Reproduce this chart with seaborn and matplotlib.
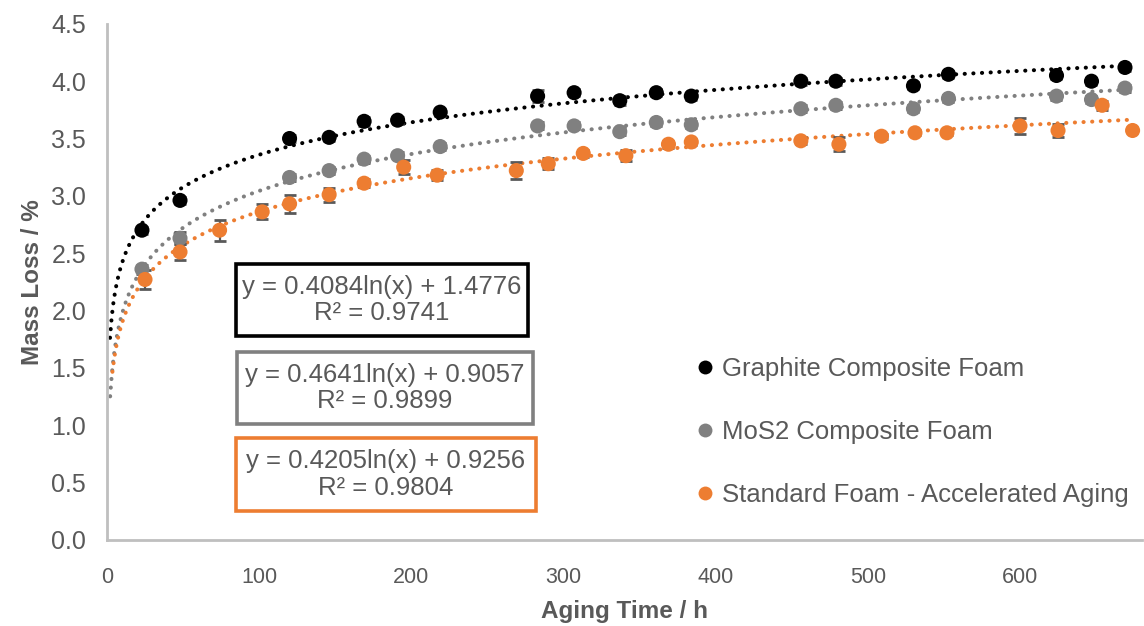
import numpy as np
import pandas as pd
import matplotlib
matplotlib.use("Agg")
import matplotlib.pyplot as plt
import seaborn as sns
from matplotlib.lines import Line2D
from matplotlib.patches import Rectangle

# ---------------- data ----------------
series_names = ["Graphite Composite Foam", "MoS2 Composite Foam",
                "Standard Foam - Accelerated Aging"]
series_colors = ["#000000", "#808080", "#ED7D31"]

composite_time = [23, 48, 120, 146, 169, 191, 219, 283, 307, 337, 361, 384,
                  456, 479, 530, 553, 624, 647, 669]
graphite_loss = [2.70, 2.96, 3.50, 3.51, 3.65, 3.66, 3.73, 3.87, 3.90, 3.83,
                 3.90, 3.87, 4.00, 4.00, 3.96, 4.06, 4.05, 4.00, 4.12]
graphite_err = [0.03, 0.03, 0.03, 0.03, 0.04, 0.03, 0.03, 0.05, 0.03, 0.04,
                0.03, 0.03, 0.03, 0.03, 0.03, 0.03, 0.03, 0.03, 0.03]
mos2_loss = [2.36, 2.63, 3.16, 3.22, 3.32, 3.35, 3.43, 3.61, 3.61, 3.56,
             3.64, 3.62, 3.76, 3.79, 3.76, 3.85, 3.87, 3.84, 3.94]
mos2_err = [0.04, 0.05, 0.03, 0.03, 0.03, 0.03, 0.03, 0.03, 0.03, 0.03,
            0.03, 0.03, 0.03, 0.03, 0.03, 0.03, 0.03, 0.03, 0.03]

standard_time = [25, 48, 74, 102, 120, 146, 169, 195, 217, 269, 290, 313,
                 341, 369, 384, 456, 481, 509, 531, 552, 600, 625, 654, 674]
standard_loss = [2.27, 2.51, 2.70, 2.86, 2.93, 3.01, 3.11, 3.25, 3.18, 3.22,
                 3.28, 3.37, 3.35, 3.45, 3.47, 3.48, 3.45, 3.52, 3.55, 3.55,
                 3.61, 3.57, 3.79, 3.57]
standard_err = [0.08, 0.066, 0.09, 0.065, 0.077, 0.06, 0.035, 0.06, 0.045,
                0.075, 0.05, 0.03, 0.05, 0.03, 0.03, 0.03, 0.06, 0.02, 0.02,
                0.02, 0.073, 0.06, 0.04, 0.0]

# logarithmic trend lines as printed on the chart
fit_slope = [0.4084, 0.4641, 0.4205]
fit_intercept = [1.4776, 0.9057, 0.9256]
fit_r2 = [0.9741, 0.9899, 0.9804]
fit_start = [2.0, 2.1, 3.6]
fit_end = [672, 672, 672]

x_ticks = [0, 100, 200, 300, 400, 500, 600]
y_ticks = [0.0, 0.5, 1.0, 1.5, 2.0, 2.5, 3.0, 3.5, 4.0, 4.5]
x_label = "Aging Time / h"
y_label = "Mass Loss / %"

# ---------------- build tidy frames ----------------
frames = []
for name, t, v, e in [(series_names[0], composite_time, graphite_loss, graphite_err),
                      (series_names[1], composite_time, mos2_loss, mos2_err),
                      (series_names[2], standard_time, standard_loss, standard_err)]:
    frames.append(pd.DataFrame({"time": t, "loss": v, "err": e, "series": name}))
df = pd.concat(frames, ignore_index=True)

fit_frames = []
for name, a, b, x0, x1 in zip(series_names, fit_slope, fit_intercept, fit_start, fit_end):
    xs = np.linspace(x0, x1, 600)
    fit_frames.append(pd.DataFrame({"time": xs, "loss": a * np.log(xs) + b, "series": name}))
fit_df = pd.concat(fit_frames, ignore_index=True)

# ---------------- style ----------------
sns.set_theme(style="white")
plt.rcParams["font.family"] = ["Liberation Sans", "DejaVu Sans"]
TXT = "#595959"
AX = "#BFBFBF"

fig = plt.figure(figsize=(11.44, 6.26), dpi=100)
ax = fig.add_axes([0.0935, 0.138, 0.9045, 0.8238])

palette = dict(zip(series_names, series_colors))

# trend lines (dotted)
for name in series_names:
    sub = fit_df[fit_df.series == name]
    sns.lineplot(data=sub, x="time", y="loss", ax=ax, color=palette[name],
                 linewidth=2.9, linestyle=(0, (0.05, 2.1)),
                 dash_capstyle="round", zorder=2, legend=False, sort=False)

# error bars
for name in series_names:
    sub = df[df.series == name]
    ax.errorbar(sub["time"], sub["loss"], yerr=sub["err"], fmt="none",
                ecolor="#595959", elinewidth=1.6, capsize=4.5, capthick=2.0,
                zorder=3)

# points
sns.scatterplot(data=df, x="time", y="loss", hue="series", palette=palette,
                hue_order=series_names, s=118, edgecolor="none",
                ax=ax, legend=False, zorder=4)

# axes
ax.set_xlim(0, 680)
ax.set_ylim(0, 4.5)
ax.set_xticks(x_ticks)
ax.set_yticks(y_ticks)
ax.set_yticklabels([f"{v:.1f}" for v in y_ticks])
for side in ["top", "right"]:
    ax.spines[side].set_visible(False)
for side in ["left", "bottom"]:
    ax.spines[side].set_color(AX)
    ax.spines[side].set_linewidth(2.0)
ax.tick_params(axis="both", which="major", direction="out", length=5,
               width=1.6, color=AX, labelcolor=TXT)
ax.tick_params(axis="y", labelsize=18, pad=10)
ax.tick_params(axis="x", labelsize=15.5, pad=15)
ax.grid(False)

ax.set_xlabel(x_label, fontsize=17.5, fontweight="bold", color=TXT, labelpad=8)
ax.set_ylabel(y_label, fontsize=17.5, fontweight="bold", color=TXT, labelpad=5)

# equation boxes (pixel geometry converted to figure fractions)
W, H = 1144, 626
boxes = [(236, 264, 528, 336), (237, 352, 533, 424), (236, 438, 536, 511)]
for (x0, y0, x1, y1), col, a, b, r2 in zip(boxes, series_colors, fit_slope,
                                          fit_intercept, fit_r2):
    rect = Rectangle((x0 / W, 1 - y1 / H), (x1 - x0) / W, (y1 - y0) / H,
                     transform=fig.transFigure, facecolor="white",
                     edgecolor=col, linewidth=2.6, zorder=5)
    fig.patches.append(rect)
    cx = (x0 + x1) / 2 / W
    cy = 1 - (y0 + y1) / 2 / H
    fig.text(cx, cy, f"y = {a:.4f}ln(x) + {b:.4f}\nR² = {r2:.4f}",
             ha="center", va="center", fontsize=18.5, color=TXT,
             linespacing=1.12, zorder=6)

# legend
handles = [Line2D([0], [0], marker="o", linestyle="none", markersize=10,
                  markerfacecolor=c, markeredgecolor="none") for c in series_colors]
leg = ax.legend(handles, series_names, loc="center left",
                bbox_to_anchor=(677 / W, 1 - 432 / H), bbox_transform=fig.transFigure,
                frameon=False, fontsize=18.5, labelspacing=1.5,
                handletextpad=0.05, handlelength=1.2, borderpad=0)
for t in leg.get_texts():
    t.set_color(TXT)

fig.savefig("out.png", dpi=100)
